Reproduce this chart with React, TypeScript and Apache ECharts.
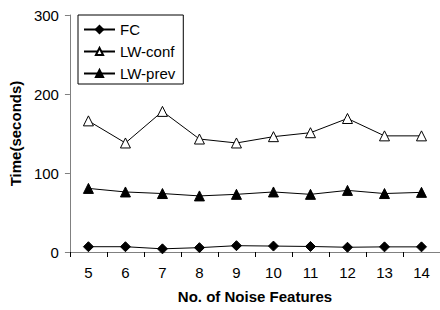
import React, { useEffect, useRef } from "react";
import * as echarts from "echarts";

const categories = ["5", "6", "7", "8", "9", "10", "11", "12", "13", "14"];
const fcValues = [6.7, 6.7, 4, 5.5, 8, 7.5, 7, 6, 6.5, 6.5];
const lwConfValues = [166, 138, 178, 143, 138, 146, 151, 169, 147, 147];
const lwPrevValues = [80.5, 76, 74, 71, 73, 76, 73, 78, 74, 75.5];
const yMin = 0;
const yMax = 300;
const yInterval = 100;

const FONT = "'Liberation Sans', Arial, sans-serif";

export default function App() {
  const ref = useRef<HTMLDivElement>(null);
  useEffect(() => {
    if (!ref.current) return;
    const chart = echarts.init(ref.current, undefined, { renderer: "svg" });
    const lineStyle = { color: "#000", width: 1 };
    chart.setOption({
      animation: false,
      backgroundColor: "#fff",
      textStyle: { fontFamily: FONT },
      grid: { left: 68, right: 0, top: 15, bottom: 58, containLabel: false },
      legend: {
        orient: "vertical",
        left: 78,
        top: 15,
        padding: [7, 8, 3, 5],
        itemWidth: 31,
        itemHeight: 9,
        itemGap: 7,
        borderColor: "#000",
        borderWidth: 1,
        borderRadius: 0,
        textStyle: { fontSize: 15, color: "#000", fontFamily: FONT },
        data: ["FC", "LW-conf", "LW-prev"],
      },
      xAxis: {
        type: "category",
        data: categories,
        boundaryGap: true,
        name: "No. of Noise Features",
        nameLocation: "middle",
        nameGap: 37,
        nameTextStyle: { fontSize: 15, fontWeight: "bold", color: "#000", fontFamily: FONT },
        axisLine: { lineStyle: { color: "#808080", width: 1 } },
        axisTick: { show: true, length: 5, alignWithLabel: false, lineStyle: { color: "#000" } },
        axisLabel: { fontSize: 15, color: "#000", margin: 13, fontFamily: FONT },
        splitLine: { show: false },
      },
      yAxis: {
        type: "value",
        min: yMin,
        max: yMax,
        interval: yInterval,
        name: "Time(seconds)",
        nameLocation: "middle",
        nameGap: 44,
        nameTextStyle: { fontSize: 15, fontWeight: "bold", color: "#000", fontFamily: FONT },
        axisLine: { show: true, lineStyle: { color: "#808080", width: 1 } },
        axisTick: { show: true, length: 5, lineStyle: { color: "#808080" } },
        axisLabel: { fontSize: 15, color: "#000", margin: 11, fontFamily: FONT },
        splitLine: { show: false },
      },
      series: [
        {
          name: "FC",
          type: "line",
          data: fcValues,
          symbol: "diamond",
          symbolSize: 10,
          lineStyle,
          itemStyle: { color: "#000", borderColor: "#000", borderWidth: 1 },
        },
        {
          name: "LW-conf",
          type: "line",
          data: lwConfValues,
          symbol: "triangle",
          symbolSize: 10,
          lineStyle,
          itemStyle: { color: "#fff", borderColor: "#000", borderWidth: 1 },
        },
        {
          name: "LW-prev",
          type: "line",
          data: lwPrevValues,
          symbol: "triangle",
          symbolSize: 10,
          lineStyle,
          itemStyle: { color: "#000", borderColor: "#000", borderWidth: 1 },
        },
      ],
    });
    return () => chart.dispose();
  }, []);
  return (
    <div
      ref={ref}
      style={{ position: "fixed", left: 0, top: 0, width: 440, height: 310 }}
    />
  );
}
